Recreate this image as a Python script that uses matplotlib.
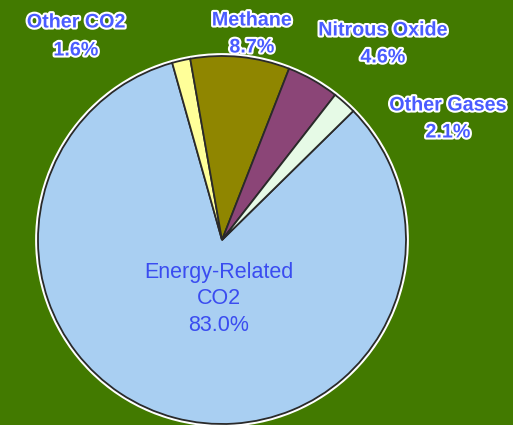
import matplotlib
matplotlib.use("Agg")
import matplotlib.pyplot as plt
import matplotlib.patheffects as pe
from matplotlib.patches import Circle

# data
sources = ["Energy-Related\nCO2", "Other CO2", "Methane", "Nitrous Oxide", "Other Gases"]
shares = [83.0, 1.6, 8.7, 4.6, 2.1]
colors = ["#a9cff2", "#ffff99", "#8f8600", "#8b4577", "#e6fae6"]

W, H = 513, 425
fig = plt.figure(figsize=(W / 100, H / 100), dpi=100)
fig.patch.set_facecolor("#427a00")
ax = fig.add_axes([0, 0, 1, 1])
ax.set_facecolor("#427a00")

cx, cy, r = 222, H - 240, 184

# white rim around the pie
ax.add_patch(Circle((cx, cy), r + 1.5, facecolor="none", edgecolor="white", lw=2.0, zorder=0))

ax.pie(shares, colors=colors, startangle=44.5, counterclock=False,
       center=(cx, cy), radius=r, frame=True,
       wedgeprops=dict(edgecolor="#2a2a2a", linewidth=1.3))

ax.set_xlim(0, W)
ax.set_ylim(0, H)
ax.set_aspect("equal")
ax.axis("off")

halo = [pe.withStroke(linewidth=3, foreground="white")]
blue = "#4a5cff"

# outside labels (pixel positions of the reference)
outer = [
    (1, 76, 22, 50),
    (2, 252, 20, 47),
    (3, 383, 30, 57),
    (4, 448, 105, 132),
]
for i, x, y1, y2 in outer:
    name = sources[i]
    ax.text(x, H - y1, name, ha="center", va="center", fontsize=14.2, fontweight="bold",
            family="Liberation Sans", color=blue, path_effects=halo)
    ax.text(x, H - y2, f"{shares[i]:.1f}%", ha="center", va="center", fontsize=14.2,
            fontweight="bold", family="Liberation Sans", color=blue, path_effects=halo)

# inside label
ax.text(219, H - 299, f"{sources[0]}\n{shares[0]:.1f}%", ha="center", va="center",
        fontsize=15.5, family="Liberation Sans", color="#3a4cf0", linespacing=1.35)

fig.savefig("out.png", dpi=100, facecolor=fig.get_facecolor())
